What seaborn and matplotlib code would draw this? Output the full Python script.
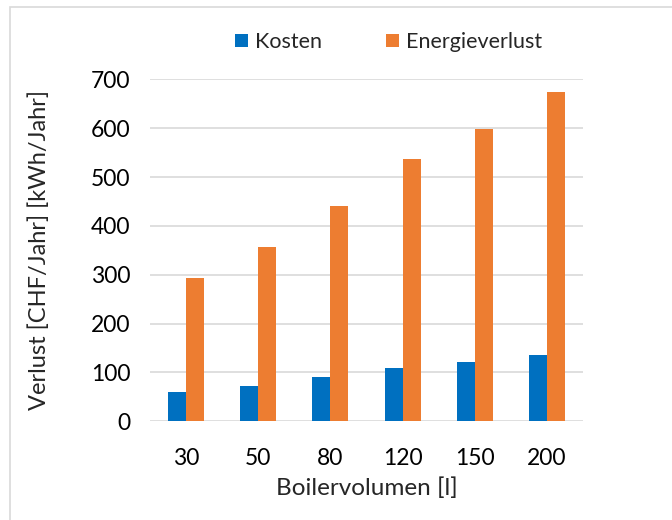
import matplotlib
matplotlib.use("Agg")
import matplotlib.pyplot as plt
from matplotlib.patches import Rectangle
import seaborn as sns
import pandas as pd

# Values.
volumes = ["30", "50", "80", "120", "150", "200"]
kosten = [60, 73, 90, 109, 121, 136]
energieverlust = [293, 356, 440, 537, 598, 673]
series = ["Kosten", "Energieverlust"]
colors = ["#0070C0", "#ED7D31"]

df = pd.DataFrame({
    "Boilervolumen": volumes * 2,
    "Wert": kosten + energieverlust,
    "Serie": [series[0]] * len(volumes) + [series[1]] * len(volumes),
})

sns.set_style("white")
plt.rcParams["font.family"] = ["Lato", "DejaVu Sans"]

fig = plt.figure(figsize=(6.72, 5.2), dpi=100)
ax = fig.add_axes([150 / 672, 1 - 421.3 / 520, 433 / 672, 342 / 520])

sns.barplot(data=df, x="Boilervolumen", y="Wert", hue="Serie",
            hue_order=series, palette=colors, width=0.5, saturation=1,
            linewidth=0, ax=ax, legend=True)

ax.set_ylim(0, 700)
ax.set_yticks(range(0, 701, 100))
ax.yaxis.grid(True, color="#d9d9d9", linewidth=1.2)
ax.set_axisbelow(True)
for s in ax.spines.values():
    s.set_visible(False)
ax.tick_params(axis="both", length=0, labelsize=16.5, colors="#000000")
ax.tick_params(axis="x", pad=19)
ax.tick_params(axis="y", pad=14)
ax.set_xlabel("Boilervolumen [l]", fontsize=17.5)
ax.set_ylabel("Verlust [CHF/Jahr] [kWh/Jahr]", fontsize=17)
ax.xaxis.set_label_coords(0.5, -0.165)
ax.yaxis.set_label_coords(-0.232, 0.5)

leg = ax.legend(loc="center", bbox_to_anchor=(0.551, 1.109), ncol=2, frameon=False,
                fontsize=15.5, handlelength=0.6, handleheight=0.6,
                columnspacing=3.0, handletextpad=0.3)

# outer chart frame
fig.patches.append(Rectangle((10 / 672, -0.1), 1.2, 1 - 7 / 520 + 0.1,
                             transform=fig.transFigure, fill=False,
                             edgecolor="#d9d9d9", linewidth=1.2))

fig.savefig("out.png", dpi=100)
